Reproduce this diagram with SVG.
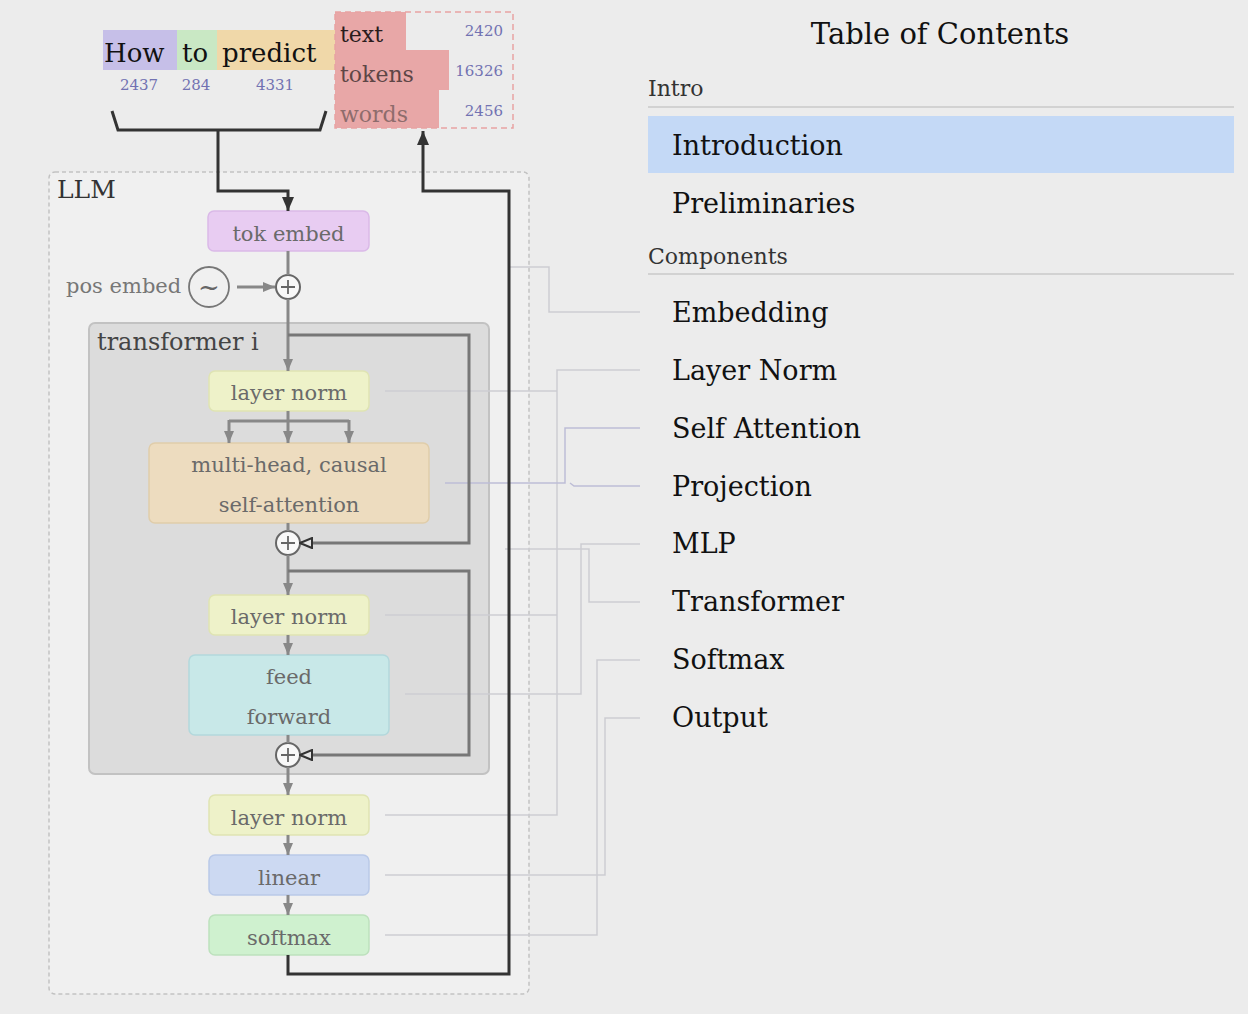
<svg xmlns="http://www.w3.org/2000/svg" width="1248" height="1014" viewBox="0 0 1248 1014">
<style>
  text { font-family: "DejaVu Serif", "Liberation Serif", serif; }
  .num { font-size: 15px; fill: #7272b2; }
  .lbl { font-size: 21px; fill: #6a6a6a; text-anchor: middle; }
  .toc { font-size: 27px; fill: #111; }
  .sec { font-size: 22px; fill: #333; }
  .node { stroke-width: 1.5; }
  .flow { fill: none; stroke: #888; stroke-width: 3; }
  .res { fill: none; stroke: #777; stroke-width: 3; }
  .dark { fill: none; stroke: #333; stroke-width: 3; }
  .link { fill: none; stroke: #cdcdd2; stroke-width: 1.5; }
  .link2 { fill: none; stroke: #bdbdd6; stroke-width: 1.5; }
  .plus { fill: #f8f8f8; stroke: #666; stroke-width: 2; }
</style>
<defs>
  <marker id="ag" viewBox="0 0 12 10" refX="12" refY="5" markerWidth="12" markerHeight="11" markerUnits="userSpaceOnUse" orient="auto">
    <path d="M0,0 L12,5 L0,10 Z" fill="#888"/>
  </marker>
  <marker id="ad" viewBox="0 0 14 12" refX="14" refY="6" markerWidth="14" markerHeight="12" markerUnits="userSpaceOnUse" orient="auto">
    <path d="M0,0 L14,6 L0,12 Z" fill="#333"/>
  </marker>
  <marker id="ao" viewBox="0 0 14 12" refX="13" refY="6" markerWidth="14" markerHeight="12" markerUnits="userSpaceOnUse" orient="auto">
    <path d="M1,1 L13,6 L1,11 Z" fill="#e4e4e4" stroke="#333" stroke-width="2"/>
  </marker>
</defs>

<rect x="0" y="0" width="1248" height="1014" fill="#ececec"/>

<!-- input tokens -->
<g id="input-tokens">
  <rect x="103" y="30" width="74" height="40" fill="#c6bfe8"/>
  <rect x="177" y="30" width="40" height="40" fill="#c9e8c4"/>
  <rect x="217" y="30" width="118" height="40" fill="#f0d8a9"/>
  <text x="104" y="62" font-size="26" fill="#111">How</text>
  <text x="182" y="62" font-size="26" fill="#111">to</text>
  <text x="222" y="62" font-size="26" fill="#111">predict</text>
  <text class="num" x="139" y="90" text-anchor="middle">2437</text>
  <text class="num" x="196" y="90" text-anchor="middle">284</text>
  <text class="num" x="275" y="90" text-anchor="middle">4331</text>
</g>

<!-- output distribution -->
<g id="output-tokens">
  <path d="M335,12 H406 V50 H449 V90 H439 V128 H335 Z" fill="#e8a7a7"/>
  <rect x="335" y="12" width="178" height="116" fill="none" stroke="#e8a2a2" stroke-width="1.5" stroke-dasharray="6 4"/>
  <text x="340" y="42" font-size="22" fill="#2a1c1c">text</text>
  <text x="340" y="82" font-size="22" fill="#5e4646">tokens</text>
  <text x="340" y="122" font-size="22" fill="#8e6c6c">words</text>
  <text class="num" x="503" y="36" text-anchor="end">2420</text>
  <text class="num" x="503" y="76" text-anchor="end">16326</text>
  <text class="num" x="503" y="116" text-anchor="end">2456</text>
</g>

<!-- LLM container -->
<g id="llm">
  <rect x="49" y="172" width="480" height="822" rx="6" fill="#f0f0f0" stroke="#c2c2c2" stroke-width="1.5" stroke-dasharray="4 3"/>
  <text x="57" y="198" font-size="25" fill="#333">LLM</text>
</g>

<g id="transformer">
  <rect x="89" y="323" width="400" height="451" rx="6" fill="#dcdcdc" stroke="#c2c2c2" stroke-width="2"/>
  <text x="97" y="350" font-size="24" fill="#444">transformer i</text>
</g>

<!-- TOC connectors -->
<g id="toc-links">
  <path class="link" d="M508,267 H549 V312 H640"/>
  <path class="link" d="M640,370 H557 V815 H385 M385,391 H557 M385,615 H557"/>
  <path class="link2" d="M640,428 H565 V483 H445 M640,486 H574 L570,483"/>
  <path class="link" d="M405,694 H581 V544 H640"/>
  <path class="link" d="M505,549 H589 V602 H640"/>
  <path class="link" d="M385,935 H597 V660 H640"/>
  <path class="link" d="M385,875 H605 V718 H640"/>
</g>

<!-- nodes -->
<g id="tok-embed">
  <rect class="node" x="208" y="211" width="161" height="40" rx="6" fill="#e8ccf2" stroke="#dab9e8"/>
  <text class="lbl" x="288.5" y="241">tok embed</text>
</g>

<g id="pos-embed">
  <text x="66" y="293" font-size="21" fill="#777">pos embed</text>
  <circle cx="209" cy="287" r="20" fill="none" stroke="#777" stroke-width="1.8"/>
  <text x="209" y="296" font-size="26" fill="#666" text-anchor="middle">~</text>
</g>

<g id="add-pos">
  <circle class="plus" cx="288" cy="287" r="12"/>
  <path d="M281,287 H295 M288,280 V294" stroke="#666" stroke-width="1.8"/>
</g>

<g id="layer-norm-1">
  <rect class="node" x="209" y="371" width="160" height="40" rx="6" fill="#eef2c9" stroke="#dfe4b3"/>
  <text class="lbl" x="289" y="400">layer norm</text>
</g>

<g id="attention">
  <rect class="node" x="149" y="443" width="280" height="80" rx="6" fill="#eddcbf" stroke="#e0cdaa"/>
  <text class="lbl" x="289" y="472">multi-head, causal</text>
  <text class="lbl" x="289" y="512">self-attention</text>
</g>

<g id="add-1">
  <circle class="plus" cx="288" cy="543" r="12"/>
  <path d="M281,543 H295 M288,536 V550" stroke="#666" stroke-width="1.8"/>
</g>

<g id="layer-norm-2">
  <rect class="node" x="209" y="595" width="160" height="40" rx="6" fill="#eef2c9" stroke="#dfe4b3"/>
  <text class="lbl" x="289" y="624">layer norm</text>
</g>

<g id="feed-forward">
  <rect class="node" x="189" y="655" width="200" height="80" rx="6" fill="#c8e8e8" stroke="#b3d8dc"/>
  <text class="lbl" x="289" y="684">feed</text>
  <text class="lbl" x="289" y="724">forward</text>
</g>

<g id="add-2">
  <circle class="plus" cx="288" cy="755" r="12"/>
  <path d="M281,755 H295 M288,748 V762" stroke="#666" stroke-width="1.8"/>
</g>

<g id="layer-norm-3">
  <rect class="node" x="209" y="795" width="160" height="40" rx="6" fill="#eef2c9" stroke="#dfe4b3"/>
  <text class="lbl" x="289" y="825">layer norm</text>
</g>

<g id="linear">
  <rect class="node" x="209" y="855" width="160" height="40" rx="6" fill="#ccd9f2" stroke="#b9c9e8"/>
  <text class="lbl" x="289" y="885">linear</text>
</g>

<g id="softmax">
  <rect class="node" x="209" y="915" width="160" height="40" rx="6" fill="#cff1cf" stroke="#bde1bd"/>
  <text class="lbl" x="289" y="945">softmax</text>
</g>

<!-- connectors -->
<g id="connectors">
  <path class="dark" d="M112,111 L118,130 H320 L326,111"/>
  <path class="dark" d="M218,130 V191 H288 V211" marker-end="url(#ad)"/>
  <path class="dark" d="M288,955 V974 H509 V191 H423 V131" marker-end="url(#ad)"/>
  <path class="flow" d="M288,251 V275"/>
  <path class="flow" d="M237,287 H275" stroke-width="2" marker-end="url(#ag)"/>
  <path class="flow" d="M288,299 V371" marker-end="url(#ag)"/>
  <path class="res" d="M288,335 H469 V543 H300" marker-end="url(#ao)"/>
  <path class="flow" d="M288,411 V443" marker-end="url(#ag)"/>
  <path class="flow" d="M229,421 H349"/>
  <path class="flow" d="M229,420 V443" marker-end="url(#ag)"/>
  <path class="flow" d="M349,420 V443" marker-end="url(#ag)"/>
  <path class="flow" d="M288,523 V531"/>
  <path class="flow" d="M288,555 V595" marker-end="url(#ag)"/>
  <path class="res" d="M288,571 H469 V755 H300" marker-end="url(#ao)"/>
  <path class="flow" d="M288,635 V655" marker-end="url(#ag)"/>
  <path class="flow" d="M288,735 V743"/>
  <path class="flow" d="M288,767 V795" marker-end="url(#ag)"/>
  <path class="flow" d="M288,835 V855" marker-end="url(#ag)"/>
  <path class="flow" d="M288,895 V915" marker-end="url(#ag)"/>
</g>

<!-- Table of contents -->
<g id="toc">
  <text x="940" y="44" font-size="29" fill="#111" text-anchor="middle">Table of Contents</text>
  <text class="sec" x="648" y="96">Intro</text>
  <rect x="648" y="106" width="586" height="2" fill="#d2d2d2"/>
  <rect x="648" y="116" width="586" height="57" fill="#c4d9f6"/>
  <text class="toc" x="672" y="155">Introduction</text>
  <text class="toc" x="672" y="213">Preliminaries</text>
  <text class="sec" x="648" y="264">Components</text>
  <rect x="648" y="273" width="586" height="2" fill="#d2d2d2"/>
  <text class="toc" x="672" y="322">Embedding</text>
  <text class="toc" x="672" y="380">Layer Norm</text>
  <text class="toc" x="672" y="438">Self Attention</text>
  <text class="toc" x="672" y="496">Projection</text>
  <text class="toc" x="672" y="553">MLP</text>
  <text class="toc" x="672" y="611">Transformer</text>
  <text class="toc" x="672" y="669">Softmax</text>
  <text class="toc" x="672" y="727">Output</text>
</g>
</svg>
